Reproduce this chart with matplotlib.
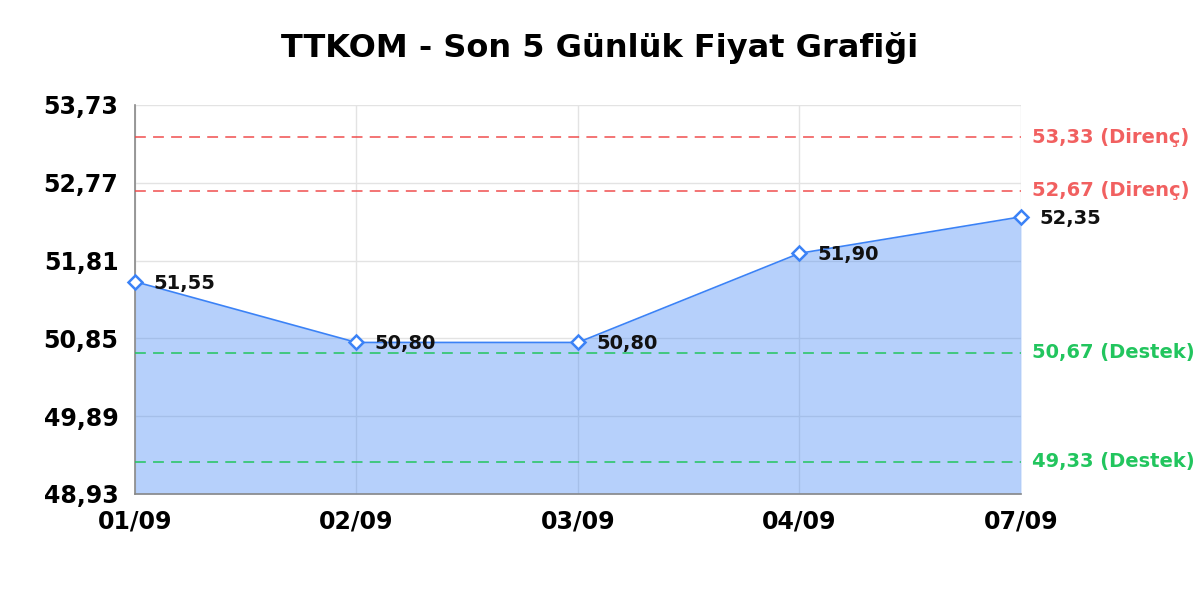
import matplotlib.pyplot as plt

plt.rcParams['font.family'] = ['DejaVu Sans']

dates = ["01/09", "02/09", "03/09", "04/09", "07/09"]
prices = [51.55, 50.80, 50.80, 51.90, 52.35]
resistance = [53.33, 52.67]
support = [50.67, 49.33]
y_ticks = [48.93, 49.89, 50.85, 51.81, 52.77, 53.73]

BLUE = "#3b82f6"
RED = "#ef4444"
GREEN = "#22c55e"

def fmt(v):
    return "{:.2f}".format(v).replace(".", ",")

fig = plt.figure(figsize=(12, 6), dpi=100)
ax = fig.add_axes([0.1125, 0.1767, 0.7383, 0.6483])

x = list(range(len(dates)))
ax.fill_between(x, prices, y_ticks[0], color=BLUE, alpha=0.37, linewidth=0, zorder=2)
ax.plot(x, prices, color=BLUE, linewidth=1.2, zorder=3)
ax.plot(x, prices, linestyle="none", marker="D", markersize=7, clip_on=False,
        markerfacecolor="white", markeredgecolor=BLUE, markeredgewidth=1.8, zorder=4)

for xi, p in zip(x, prices):
    ax.annotate(fmt(p), (xi, p), xytext=(13, -1), textcoords="offset points",
                fontsize=14, fontweight="bold", color="#111111", va="center", ha="left",
                zorder=5)

for r in resistance:
    ax.axhline(r, color=RED, alpha=0.8, linestyle=(0, (6, 4)), linewidth=1.3, zorder=3)
    ax.annotate(fmt(r) + " (Direnç)", (1, r), xycoords=("axes fraction", "data"),
                xytext=(8, 0), textcoords="offset points", fontsize=14,
                fontweight="bold", color=RED, alpha=0.85, va="center", ha="left")
for s in support:
    ax.axhline(s, color=GREEN, alpha=0.85, linestyle=(0, (6, 4)), linewidth=1.3, zorder=3)
    ax.annotate(fmt(s) + " (Destek)", (1, s), xycoords=("axes fraction", "data"),
                xytext=(8, 0), textcoords="offset points", fontsize=14,
                fontweight="bold", color=GREEN, va="center", ha="left")

ax.set_xlim(0, len(dates) - 1)
ax.set_ylim(y_ticks[0], y_ticks[-1])
ax.set_xticks(x)
ax.set_xticklabels(dates, fontsize=17, fontweight="bold")
ax.set_yticks(y_ticks)
ax.set_yticklabels([fmt(v) for v in y_ticks], fontsize=17, fontweight="bold")
ax.tick_params(axis="x", length=0, pad=11)
ax.tick_params(axis="y", length=0, pad=12)
ax.grid(True, color="#e3e3e3", linewidth=1, zorder=1)
ax.set_axisbelow(True)
for side in ["top", "right"]:
    ax.spines[side].set_visible(False)
for side in ["left", "bottom"]:
    ax.spines[side].set_color("#888888")
    ax.spines[side].set_linewidth(1.2)

fig.text(0.5, 0.92, "TTKOM - Son 5 Günlük Fiyat Grafiği", fontsize=23,
         fontweight="bold", ha="center", va="center")

fig.savefig("out.png", dpi=100)
